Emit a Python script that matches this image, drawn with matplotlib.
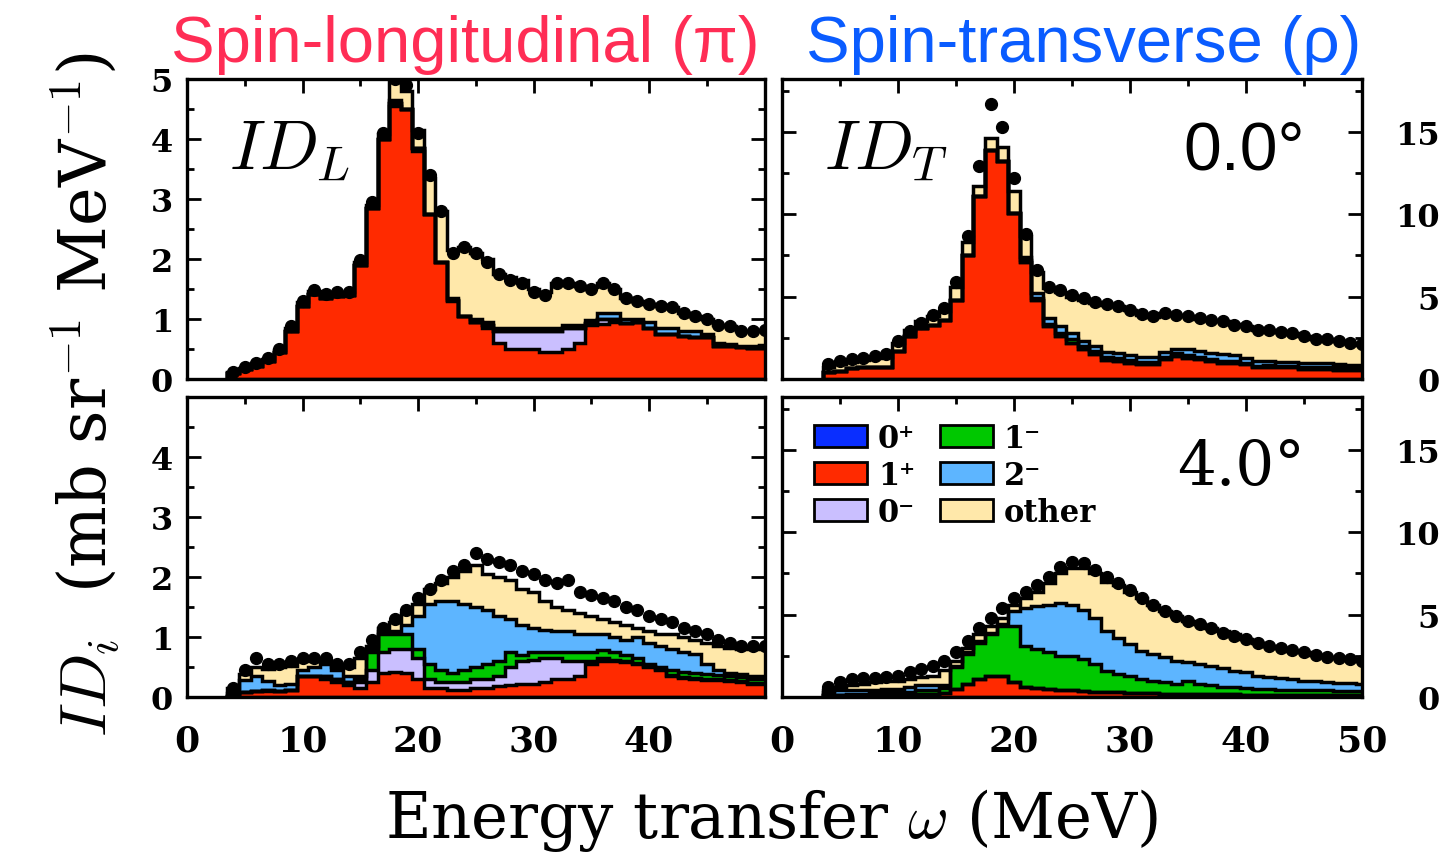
import numpy as np
import matplotlib
matplotlib.use("Agg")
import matplotlib.pyplot as plt
from matplotlib.patches import Patch

plt.rcParams["mathtext.fontset"] = "cm"
plt.rcParams["font.family"] = "DejaVu Serif"

# Energy bins: 1 MeV wide, centred on integer omega
omega = np.arange(4, 51)
edges = np.arange(3.5, 51.5, 1.0)

# ---------------- ID_L, 0.0 deg ----------------
L0_data = [0.12, 0.20, 0.27, 0.35, 0.50, 0.88, 1.30, 1.48, 1.42, 1.45, 1.45, 1.98, 2.95, 4.10, 5.00, 4.90,
           4.10, 3.40, 2.80, 2.10, 2.20, 2.10, 1.95, 1.75, 1.65, 1.60, 1.45, 1.40, 1.60, 1.60, 1.55, 1.50,
           1.60, 1.50, 1.35, 1.30, 1.25, 1.22, 1.20, 1.10, 1.05, 1.00, 0.90, 0.88, 0.80, 0.80, 0.82]
L0_0p = [0.0] * 47
L0_1p = [0.10, 0.16, 0.22, 0.30, 0.45, 0.80, 1.22, 1.42, 1.35, 1.38, 1.40, 1.90, 2.85, 4.00, 4.55, 4.50,
         3.80, 2.75, 1.95, 1.30, 1.05, 0.95, 0.85, 0.60, 0.50, 0.50, 0.50, 0.45, 0.45, 0.50, 0.60, 0.90,
         0.92, 0.95, 0.93, 0.95, 0.85, 0.75, 0.75, 0.72, 0.70, 0.70, 0.55, 0.55, 0.53, 0.52, 0.52]
L0_0m = [0, 0, 0, 0, 0, 0, 0, 0, 0, 0, 0, 0, 0, 0, 0.05, 0, 0.05, 0, 0, 0.02, 0, 0, 0.05, 0.20,
         0.30, 0.30, 0.30, 0.35, 0.35, 0.35, 0.25, 0.03, 0.08, 0.05, 0, 0, 0, 0, 0, 0, 0, 0, 0, 0, 0, 0, 0]
L0_1m = [0.0] * 47
L0_2m = [0, 0, 0, 0, 0, 0, 0, 0, 0, 0, 0, 0, 0, 0, 0.05, 0, 0, 0, 0, 0.03, 0, 0.05, 0.05, 0.05,
         0.05, 0.05, 0.05, 0.05, 0.05, 0.05, 0.05, 0.05, 0.10, 0.10, 0.07, 0.05, 0.10, 0.10, 0.10, 0.08,
         0.10, 0.05, 0.05, 0.03, 0.02, 0.03, 0.05]
L0_oth = [0.02, 0.03, 0.04, 0.04, 0.04, 0.05, 0.06, 0.05, 0.06, 0.06, 0.05, 0.05, 0.05, 0.08, 0.30, 0.30,
          0.30, 0.60, 0.85, 0.80, 1.15, 1.10, 1.05, 0.90, 0.85, 0.80, 0.65, 0.60, 0.75, 0.70, 0.65, 0.55,
          0.50, 0.40, 0.35, 0.30, 0.30, 0.38, 0.35, 0.30, 0.25, 0.25, 0.30, 0.30, 0.25, 0.25, 0.25]

# ---------------- ID_T, 0.0 deg ----------------
T0_data = [0.9, 1.1, 1.2, 1.3, 1.4, 1.5, 2.3, 2.9, 3.4, 3.9, 4.3, 5.9, 8.7, 12.9, 16.7, 15.3, 12.2, 8.8,
           6.6, 5.6, 5.4, 5.1, 4.9, 4.7, 4.55, 4.45, 4.2, 3.95, 3.8, 4.0, 3.9, 3.8, 3.7, 3.6, 3.5, 3.3,
           3.2, 3.0, 2.95, 2.85, 2.8, 2.6, 2.45, 2.4, 2.3, 2.2, 2.1]
T0_0p = [0.0] * 47
T0_1p = [0.4, 0.5, 0.65, 0.7, 0.7, 0.75, 1.7, 2.6, 3.1, 3.3, 3.6, 4.8, 7.5, 11.1, 13.9, 13.2, 10.1, 7.1,
         4.8, 3.2, 2.6, 2.2, 1.8, 1.5, 1.15, 1.1, 1.0, 0.9, 0.9, 1.2, 1.4, 1.3, 1.2, 1.1, 1.0, 1.0, 0.9,
         0.7, 0.7, 0.7, 0.7, 0.6, 0.6, 0.6, 0.55, 0.55, 0.55]
T0_0m = [0.0] * 47
T0_1m = [0, 0, 0, 0, 0, 0, 0, 0, 0, 0, 0, 0, 0, 0, 0, 0, 0, 0.1, 0.1, 0.15, 0.2, 0.2, 0.2, 0.2, 0.2,
         0.2, 0.15, 0.15, 0.15, 0.15, 0.15, 0.15, 0.15, 0.1, 0.1, 0.1, 0.1, 0.1, 0.15, 0.1, 0.1, 0.15,
         0.15, 0.15, 0.15, 0.15, 0.15]
T0_2m = [0, 0, 0, 0, 0, 0, 0, 0, 0, 0, 0, 0, 0, 0, 0, 0, 0, 0.2, 0.3, 0.35, 0.4, 0.4, 0.3, 0.3, 0.3,
         0.3, 0.3, 0.3, 0.3, 0.3, 0.3, 0.35, 0.35, 0.4, 0.4, 0.35, 0.3, 0.3, 0.25, 0.25, 0.25, 0.25,
         0.2, 0.2, 0.2, 0.15, 0.15]
T0_oth = [0.3, 0.4, 0.4, 0.45, 0.55, 0.6, 0.5, 0.4, 0.4, 0.5, 0.5, 0.8, 0.8, 0.6, 0.7, 0.9, 1.3, 1.3,
          1.3, 1.8, 2.1, 2.2, 2.5, 2.6, 2.85, 2.8, 2.75, 2.55, 2.4, 2.35, 2.05, 2.0, 1.95, 2.0, 2.0, 1.9,
          1.9, 1.9, 1.9, 1.8, 1.75, 1.6, 1.5, 1.45, 1.4, 1.35, 1.2]

# ---------------- ID_L, 4.0 deg ----------------
L4_data = [0.15, 0.45, 0.65, 0.55, 0.55, 0.60, 0.65, 0.65, 0.65, 0.55, 0.55, 0.75, 0.95, 1.15, 1.30, 1.45,
           1.65, 1.80, 1.95, 2.10, 2.20, 2.40, 2.30, 2.25, 2.20, 2.10, 2.05, 1.95, 1.90, 1.95, 1.75, 1.70,
           1.65, 1.60, 1.50, 1.45, 1.35, 1.30, 1.25, 1.15, 1.10, 1.05, 0.95, 0.90, 0.85, 0.85, 0.85]
L4_0p = [0.0] * 47
L4_1p = [0.02, 0.08, 0.10, 0.10, 0.10, 0.12, 0.35, 0.35, 0.30, 0.25, 0.20, 0.15, 0.25, 0.40, 0.42, 0.40,
         0.30, 0.15, 0.15, 0.12, 0.12, 0.15, 0.15, 0.18, 0.20, 0.22, 0.22, 0.25, 0.30, 0.30, 0.35, 0.55,
         0.60, 0.60, 0.58, 0.55, 0.50, 0.45, 0.35, 0.32, 0.30, 0.28, 0.28, 0.27, 0.25, 0.22, 0.22]
L4_0m = [0, 0, 0, 0.02, 0, 0, 0, 0, 0.05, 0.05, 0.05, 0.10, 0.20, 0.35, 0.38, 0.40, 0.35, 0.15, 0.10,
         0.13, 0.13, 0.15, 0.15, 0.17, 0.30, 0.38, 0.40, 0.40, 0.35, 0.30, 0.25, 0.05, 0.05, 0.02, 0.02,
         0.02, 0.02, 0.02, 0.02, 0.02, 0.02, 0.02, 0.02, 0.01, 0.02, 0.02, 0.02]
L4_1m = [0, 0, 0, 0, 0, 0, 0, 0, 0, 0, 0, 0.05, 0.30, 0.30, 0.25, 0.25, 0.15, 0.25, 0.20, 0.15, 0.20,
         0.20, 0.25, 0.25, 0.25, 0.10, 0.13, 0.10, 0.10, 0.15, 0.15, 0.15, 0.13, 0.13, 0.10, 0.08, 0.03,
         0.03, 0.08, 0.08, 0.08, 0.08, 0.07, 0.07, 0.06, 0.06, 0.06]
L4_2m = [0.05, 0.20, 0.25, 0.15, 0.10, 0.10, 0.10, 0.15, 0.20, 0.15, 0.10, 0.05, 0.05, 0.05, 0.05, 0.15,
         0.55, 1.00, 1.15, 1.20, 1.10, 1.00, 0.90, 0.75, 0.55, 0.50, 0.40, 0.37, 0.35, 0.35, 0.30, 0.30,
         0.27, 0.25, 0.25, 0.35, 0.35, 0.35, 0.35, 0.33, 0.32, 0.17, 0.08, 0.05, 0.05, 0.05, 0.05]
L4_oth = [0.08, 0.10, 0.15, 0.20, 0.30, 0.30, 0.15, 0.10, 0.05, 0.05, 0.15, 0.30, 0.05, 0.05, 0.15, 0.20,
          0.20, 0.25, 0.30, 0.40, 0.55, 0.70, 0.60, 0.65, 0.65, 0.60, 0.60, 0.48, 0.40, 0.35, 0.35, 0.30,
          0.25, 0.25, 0.25, 0.15, 0.20, 0.20, 0.25, 0.25, 0.23, 0.35, 0.40, 0.42, 0.42, 0.45, 0.45]

# ---------------- ID_T, 4.0 deg ----------------
T4_data = [0.6, 0.9, 1.1, 1.15, 1.15, 1.2, 1.3, 1.5, 1.7, 1.9, 2.2, 2.7, 3.4, 4.2, 4.8, 5.4, 6.0, 6.4,
           6.8, 7.3, 7.9, 8.2, 8.1, 7.7, 7.3, 6.9, 6.5, 6.0, 5.6, 5.2, 4.9, 4.6, 4.4, 4.2, 3.9, 3.7, 3.5,
           3.3, 3.1, 3.0, 2.85, 2.7, 2.55, 2.45, 2.35, 2.3, 2.2]
T4_0p = [0.0] * 47
T4_1p = [0.1, 0.1, 0.12, 0.12, 0.15, 0.15, 0.15, 0.15, 0.2, 0.2, 0.25, 0.5, 0.8, 1.1, 1.25, 1.25, 0.9,
         0.6, 0.55, 0.5, 0.45, 0.4, 0.35, 0.3, 0.3, 0.28, 0.25, 0.25, 0.22, 0.2, 0.2, 0.2, 0.18, 0.18,
         0.17, 0.16, 0.15, 0.15, 0.15, 0.15, 0.14, 0.14, 0.13, 0.13, 0.12, 0.12, 0.12]
T4_0m = [0.0] * 47
T4_1m = [0.05, 0.05, 0.08, 0.08, 0.1, 0.15, 0.15, 0.15, 0.2, 0.25, 0.3, 1.3, 1.8, 2.2, 2.55, 3.05, 3.4,
         2.5, 2.35, 2.2, 2.05, 2.1, 1.95, 1.7, 1.3, 1.12, 1.0, 0.85, 0.78, 0.7, 0.6, 0.8, 0.62, 0.52,
         0.43, 0.44, 0.4, 0.35, 0.35, 0.3, 0.31, 0.26, 0.27, 0.27, 0.23, 0.23, 0.23]
T4_2m = [0.15, 0.25, 0.25, 0.2, 0.15, 0.2, 0.2, 0.3, 0.3, 0.3, 0.2, 0.1, 0.1, 0.1, 0.1, 0.1, 0.9, 2.3,
         2.6, 2.9, 3.2, 3.1, 3.0, 2.8, 2.4, 2.2, 1.95, 1.7, 1.6, 1.5, 1.4, 1.1, 1.2, 1.2, 1.15, 1.0, 0.95,
         0.8, 0.7, 0.7, 0.65, 0.6, 0.55, 0.5, 0.5, 0.5, 0.45]
T4_oth = [0.15, 0.2, 0.25, 0.4, 0.5, 0.45, 0.5, 0.5, 0.5, 0.55, 0.9, 0.3, 0.3, 0.4, 0.4, 0.4, 0.4, 0.6,
          0.9, 1.3, 1.8, 2.2, 2.5, 2.7, 3.0, 3.2, 3.2, 3.2, 3.0, 2.8, 2.7, 2.5, 2.4, 2.3, 2.25, 2.2, 2.0,
          2.0, 1.9, 1.85, 1.7, 1.7, 1.6, 1.55, 1.5, 1.45, 1.4]

# Multipole labels and fill colours (stacking order bottom -> top)
multipoles = ["0⁺", "1⁺", "0⁻", "1⁻", "2⁻", "other"]
colors = ["#0A2EFF", "#FF2A00", "#CABFFF", "#00C800", "#5DB5FF", "#FFE8AA"]

# ---------------- figure ----------------
W, H = 1449, 853
fig = plt.figure(figsize=(W / 100, H / 100), dpi=100)


def px_axes(x0, y0, x1, y1):
    return fig.add_axes([x0 / W, 1 - y1 / H, (x1 - x0) / W, (y1 - y0) / H])


ax_L0 = px_axes(187, 80, 764.5, 380)
ax_T0 = px_axes(782, 80, 1362, 380)
ax_L4 = px_axes(187, 398, 764.5, 698)
ax_T4 = px_axes(782, 398, 1362, 698)


def draw_stack(ax, layers, data):
    base = np.zeros(len(omega))
    tops = []
    for vals, col in zip(layers, colors):
        top = base + np.asarray(vals, dtype=float)
        ax.stairs(top, edges, baseline=base, fill=True, facecolor=col,
                  edgecolor="none", linewidth=0, zorder=2)
        tops.append(top)
        base = top
    for top in tops:
        ax.stairs(top, edges, baseline=0, fill=False, color="black",
                  linewidth=2.5, zorder=3)
    ax.plot(omega, data, "o", color="black", markersize=8.5, zorder=4)


draw_stack(ax_L0, [L0_0p, L0_1p, L0_0m, L0_1m, L0_2m, L0_oth], L0_data)
draw_stack(ax_T0, [T0_0p, T0_1p, T0_0m, T0_1m, T0_2m, T0_oth], T0_data)
draw_stack(ax_L4, [L4_0p, L4_1p, L4_0m, L4_1m, L4_2m, L4_oth], L4_data)
draw_stack(ax_T4, [T4_0p, T4_1p, T4_0m, T4_1m, T4_2m, T4_oth], T4_data)

for ax, is_left, is_top in [(ax_L0, True, True), (ax_T0, False, True),
                            (ax_L4, True, False), (ax_T4, False, False)]:
    ax.set_xlim(0, 50)
    if is_left:
        ax.set_ylim(0, 5)
        ax.set_yticks([0, 1, 2, 3, 4, 5] if is_top else [0, 1, 2, 3, 4])
        ax.set_yticks(np.arange(0.5, 5, 1.0), minor=True)
    else:
        ax.set_ylim(0, 18.2)
        ax.set_yticks([0, 5, 10, 15])
        ax.set_yticks([2.5, 7.5, 12.5, 17.5], minor=True)
    ax.set_xticks([0, 10, 20, 30, 40] if is_left else [0, 10, 20, 30, 40, 50])
    ax.set_xticks([5, 15, 25, 35, 45], minor=True)
    ax.tick_params(which="both", direction="in", top=True, bottom=True,
                   left=True, right=True, width=2.0, colors="black")
    ax.tick_params(which="major", length=10)
    ax.tick_params(which="minor", length=5)
    ax.tick_params(axis="x", labelbottom=not is_top, labelsize=26, pad=19)
    if is_left:
        ax.tick_params(axis="y", labelleft=True, labelright=False, labelsize=23, pad=10)
    else:
        ax.tick_params(axis="y", labelleft=False, labelright=True, labelsize=23, pad=56)
        for lab in ax.get_yticklabels():
            lab.set_horizontalalignment("right")
    for lab in ax.get_xticklabels() + ax.get_yticklabels():
        lab.set_fontfamily("DejaVu Serif")
        lab.set_fontweight("bold")
    for sp in ax.spines.values():
        sp.set_linewidth(2.4)

# Panel annotations
ax_L0.text(0.072, 0.70, r"$ID_L$", transform=ax_L0.transAxes, fontsize=50,
           ha="left", va="baseline")
ax_T0.text(0.072, 0.70, r"$ID_T$", transform=ax_T0.transAxes, fontsize=50,
           ha="left", va="baseline")
ax_T0.text(0.902, 0.70, "0.0°", transform=ax_T0.transAxes, fontsize=49,
           family="Liberation Sans", ha="right", va="baseline")
ax_T4.text(0.902, 0.71, "4.0°", transform=ax_T4.transAxes, fontsize=44,
           family="DejaVu Serif", ha="right", va="baseline")

# Legend of multipoles
handles = [Patch(facecolor=c, edgecolor="black", linewidth=2.0) for c in colors]
ax_T4.legend(handles, multipoles, ncol=2, loc="upper left",
             bbox_to_anchor=(0.055, 0.915), frameon=False, borderpad=0,
             borderaxespad=0, handlelength=1.75, handleheight=0.72,
             handletextpad=0.35, labelspacing=0.2, columnspacing=0.8,
             prop=dict(family="DejaVu Serif", weight="bold", size=22))

# Column headings
fig.text(465 / W, 1 - 62 / H, "Spin-longitudinal (π)", color="#FF2D55",
         fontsize=47, family="Liberation Sans", ha="center", va="baseline")
fig.text(1084 / W, 1 - 62 / H, "Spin-transverse (ρ)", color="#0A5CFF",
         fontsize=47, family="Liberation Sans", ha="center", va="baseline")

# Axis titles
fig.text(772 / W, 1 - 838 / H, r"Energy transfer $\omega$ (MeV)", fontsize=45,
         family="DejaVu Serif", ha="center", va="baseline")
fig.text(86 / W, 1 - 395 / H, r"$ID_i$  (mb sr$^{-1}$ MeV$^{-1}$)", fontsize=47,
         family="DejaVu Serif", rotation=90, ha="center", va="center")

fig.savefig("out.png", dpi=100)
